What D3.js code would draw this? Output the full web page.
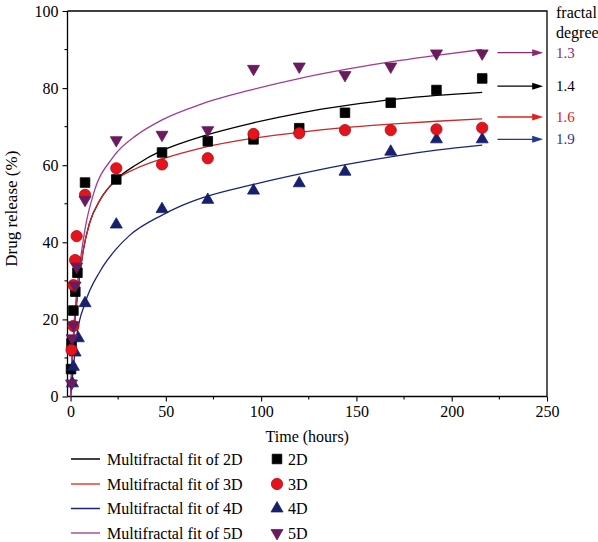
<!DOCTYPE html>
<html>
<head>
<meta charset="utf-8">
<script src="https://cdn.jsdelivr.net/npm/d3@7"></script>
<style>
  html, body { margin: 0; padding: 0; background: #fff; }
  svg text { font-family: "Liberation Serif", "DejaVu Serif", serif; }
</style>
</head>
<body>
<svg id="chart" width="598" height="542"></svg>
<script>
// ---------------- data ----------------
const seriesNames = ["2D", "3D", "4D", "5D"];

// measured points (time in hours, release in %)
const t2D = [0.25, 0.5, 1.5, 2.5, 3.6, 7.6, 24, 48, 72, 96, 120, 144, 168, 192, 216];
const v2D = [7.1, 13.8, 22.3, 27.2, 32.1, 55.5, 56.3, 63.3, 66.2, 66.7, 69.6, 73.6, 76.2, 79.5, 82.5];

const t3D = [0.5, 1.5, 1.5, 2.4, 3.2, 7.6, 24, 48, 72, 96, 120, 144, 168, 192, 216];
const v3D = [12.1, 18.3, 28.9, 35.4, 41.6, 52.3, 59.2, 60.2, 61.8, 68.1, 68.3, 69.1, 69.1, 69.3, 69.7];

const t4D = [1.0, 1.5, 2.4, 4.1, 7.6, 24, 48, 72, 96, 120, 144, 168, 192, 216];
const v4D = [3.4, 7.7, 11.4, 15.1, 24.2, 44.6, 48.6, 51.0, 53.4, 55.3, 58.3, 63.5, 66.7, 66.7];

const t5D = [0.5, 0.8, 1.5, 2.4, 3.2, 7.6, 24, 48, 72, 96, 120, 144, 168, 192, 216];
const v5D = [3.4, 15.1, 18.5, 28.8, 33.7, 51.0, 66.5, 67.9, 69.1, 85.0, 85.6, 83.4, 85.6, 89.0, 89.0];

// multifractal fit curves
const fitT2D = [0, 1, 2, 4, 6.7, 10, 15.5, 24, 34.7, 47.8, 57.4, 69, 96, 121, 145, 172, 192, 216];
const fitV2D = [0, 11, 18, 28, 38, 45, 51, 56.3, 60.2, 63.8, 65.6, 67.5, 71.0, 73.6, 75.5, 77.2, 78.1, 78.9];

const fitT3D = [0, 1, 2, 4, 6.7, 10, 15.5, 24, 34.7, 47.8, 57.4, 69, 96, 121, 145, 172, 192, 216];
const fitV3D = [0, 11, 18, 28, 38, 45, 51, 56.2, 59.2, 61.6, 63.0, 64.5, 67.0, 68.6, 69.8, 70.8, 71.4, 72.0];

const fitT4D = [0, 1.5, 3.2, 7.6, 15.5, 24, 31, 47.8, 57.4, 69, 96, 121, 145, 172, 192, 216];
const fitV4D = [0, 7.7, 15.5, 24.2, 32.5, 38.3, 41.8, 47.0, 49.3, 51.5, 55.0, 57.8, 60.2, 62.5, 63.9, 65.2];

const fitT5D = [0, 1, 2, 4, 5.9, 8, 12, 22.5, 34.7, 47.8, 69, 96, 121, 145, 172, 192, 216];
const fitV5D = [0, 12, 20, 31, 38, 44.5, 52.5, 62.2, 67.8, 71.7, 75.9, 79.7, 82.6, 84.9, 87.1, 88.5, 90.0];

// fractal degree annotations (top to bottom) and the levels of their arrows (%)
const fractalLabels = ["1.3", "1.4", "1.6", "1.9"];
const fractalLevels = [89.2, 80.5, 72.5, 66.7];

const xTicks = [0, 50, 100, 150, 200, 250];
const yTicks = [0, 20, 40, 60, 80, 100];

// ---------------- styles ----------------
const markerColor = { "2D": "#000000", "3D": "#e3141b", "4D": "#16206c", "5D": "#6a1b5e" };
const markerStroke = { "2D": "#000000", "3D": "#b00d12", "4D": "#16206c", "5D": "#6a1b5e" };
const lineColor = { "2D": "#000000", "3D": "#c8282a", "4D": "#1a237e", "5D": "#a03c98" };
const legendLineColor = { "2D": "#000000", "3D": "#e8403a", "4D": "#1a237e", "5D": "#a0559a" };
const fractalColor = ["#8b2a73", "#000000", "#e0201b", "#1e3a8a"];

const symbolFor = {
  "2D": d3.symbol().type(d3.symbolSquare).size(92),
  "3D": d3.symbol().type(d3.symbolCircle).size(100),
  "4D": d3.symbol().type(d3.symbolTriangle).size(62),
  "5D": d3.symbol().type(d3.symbolTriangle).size(62)
};
const rotFor = { "2D": 0, "3D": 0, "4D": 0, "5D": 180 };

const pts = { "2D": [t2D, v2D], "3D": [t3D, v3D], "4D": [t4D, v4D], "5D": [t5D, v5D] };
const fits = { "2D": [fitT2D, fitV2D], "3D": [fitT3D, fitV3D], "4D": [fitT4D, fitV4D], "5D": [fitT5D, fitV5D] };

// ---------------- layout ----------------
const svg = d3.select("#chart");
const pLeft = 67.5, pRight = 547, pTop = 11, pBottom = 396.5;

const x = d3.scaleLinear().domain([-1.6, 250]).range([pLeft, pRight]);
const y = d3.scaleLinear().domain([0, 100]).range([pBottom, pTop]);

const fontSize = 16;

// frame (top and right)
svg.append("path")
  .attr("d", `M${pLeft},${pTop}H${pRight}V${pBottom}`)
  .attr("fill", "none").attr("stroke", "#000").attr("stroke-width", 1.3);

// x axis
const xAxis = d3.axisBottom(x).tickValues(xTicks).tickSize(5).tickPadding(4).tickFormat(d3.format("d"));
const gx = svg.append("g").attr("transform", `translate(0,${pBottom})`).call(xAxis);
gx.select(".domain").attr("d", `M${pLeft},0H${pRight}`).attr("stroke-width", 1.3);
gx.selectAll(".tick line").attr("stroke-width", 1.1);
gx.selectAll("text").attr("font-size", fontSize).attr("fill", "#000")
  .attr("font-family", "Liberation Serif, serif");
const xMinor = d3.range(25, 250, 50);
gx.selectAll(".minor").data(xMinor).enter().append("line")
  .attr("x1", d => x(d)).attr("x2", d => x(d)).attr("y1", 0).attr("y2", 3)
  .attr("stroke", "#000").attr("stroke-width", 1.1);

// y axis
const yAxis = d3.axisLeft(y).tickValues(yTicks).tickSize(5).tickPadding(4).tickFormat(d3.format("d"));
const gy = svg.append("g").attr("transform", `translate(${pLeft},0)`).call(yAxis);
gy.select(".domain").attr("d", `M0,${pBottom}V${pTop}`).attr("stroke-width", 1.3);
gy.selectAll(".tick line").attr("stroke-width", 1.1);
gy.selectAll("text").attr("font-size", fontSize).attr("fill", "#000")
  .attr("font-family", "Liberation Serif, serif");
const yMinor = d3.range(10, 100, 20);
gy.selectAll(".minor").data(yMinor).enter().append("line")
  .attr("y1", d => y(d)).attr("y2", d => y(d)).attr("x1", 0).attr("x2", -3)
  .attr("stroke", "#000").attr("stroke-width", 1.1);

// axis titles
svg.append("text").attr("x", (pLeft + pRight) / 2).attr("y", 442)
  .attr("text-anchor", "middle").attr("font-size", fontSize).text("Time (hours)");
svg.append("text").attr("transform", `translate(17,${(pTop + pBottom) / 2 + 5}) rotate(-90)`)
  .attr("text-anchor", "middle").attr("font-size", fontSize + 1).text("Drug release (%)");

// fit curves
const line = d3.line().x(d => x(d[0])).y(d => y(d[1])).curve(d3.curveMonotoneX);
const plot = svg.append("g");
seriesNames.forEach(s => {
  const [ts, vs] = fits[s];
  plot.append("path").datum(ts.map((t, i) => [t, vs[i]]))
    .attr("d", line).attr("fill", "none")
    .attr("stroke", lineColor[s]).attr("stroke-width", 1.3);
});

// markers
["2D", "4D", "3D", "5D"].forEach(s => {
  const [ts, vs] = pts[s];
  plot.selectAll(null).data(ts.map((t, i) => [t, vs[i]])).enter().append("path")
    .attr("d", symbolFor[s]())
    .attr("transform", d => `translate(${x(d[0])},${y(d[1])}) rotate(${rotFor[s]})`)
    .attr("fill", markerColor[s]).attr("stroke", markerStroke[s]).attr("stroke-width", 0.8);
});

// fractal degree arrows and labels
const arrowStart = 224, arrowEnd = 248;
fractalLabels.forEach((lab, i) => {
  const yy = y(fractalLevels[i]);
  const x0 = x(arrowStart), x1 = x(arrowEnd);
  svg.append("line").attr("x1", x0).attr("x2", x1 - 8).attr("y1", yy).attr("y2", yy)
    .attr("stroke", fractalColor[i]).attr("stroke-width", 1.4);
  svg.append("path").attr("d", `M${x1},${yy}L${x1 - 11},${yy - 3.5}L${x1 - 11},${yy + 3.5}Z`)
    .attr("fill", fractalColor[i]);
  svg.append("text").attr("x", 556).attr("y", yy + 5).attr("font-size", 15)
    .attr("fill", fractalColor[i]).text(lab);
});
svg.append("text").attr("x", 556).attr("y", 18).attr("font-size", fontSize).text("fractal");
svg.append("text").attr("x", 556).attr("y", 38).attr("font-size", fontSize).text("degree");

// legend
const legendRows = [459, 484, 508.5, 533];
seriesNames.forEach((s, i) => {
  const ly = legendRows[i];
  svg.append("line").attr("x1", 71).attr("x2", 100).attr("y1", ly).attr("y2", ly)
    .attr("stroke", legendLineColor[s]).attr("stroke-width", 1.5);
  svg.append("text").attr("x", 107).attr("y", ly + 5.5).attr("font-size", fontSize)
    .text("Multifractal fit of " + s);
  svg.append("path").attr("d", symbolFor[s]())
    .attr("transform", `translate(277,${ly}) rotate(${rotFor[s]})`)
    .attr("fill", markerColor[s]).attr("stroke", markerStroke[s]).attr("stroke-width", 0.8);
  svg.append("text").attr("x", 288).attr("y", ly + 5.5).attr("font-size", fontSize).text(s);
});
</script>
</body>
</html>
